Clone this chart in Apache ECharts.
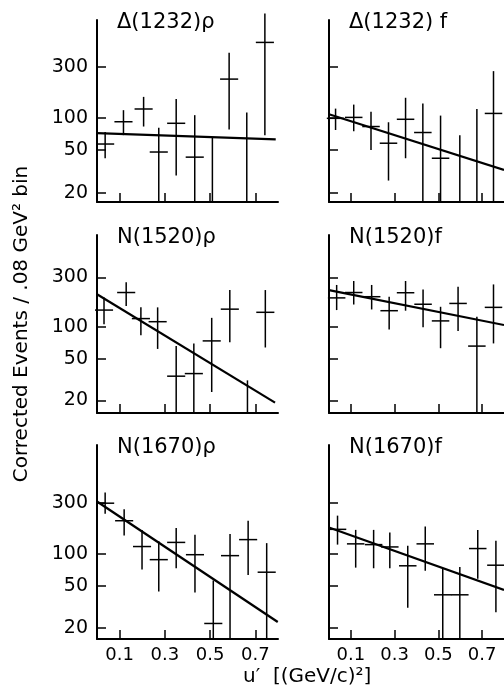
<!DOCTYPE html>
<html><head><meta charset="utf-8">
<script src="https://cdn.jsdelivr.net/npm/echarts@6/dist/echarts.min.js"></script>
<style>html,body{margin:0;padding:0;background:#fff}#c{width:504px;height:691px}</style>
</head><body><div id="c"></div><script>
// Each row: [u', corrected events, lower end of error bar, upper end of error bar]
// central value 0 = below the axis (not visible); lower end 0 = bar runs down to the axis
const delta1232Rho = [
  [0.036, 57, 42, 74], [0.117, 92, 69, 118], [0.206, 121, 83, 157], [0.273, 48, 0, 81],
  [0.35, 89, 29, 150], [0.432, 43, 0, 106], [0.51, 0, 0, 66], [0.584, 230, 78, 405],
  [0.662, 0, 0, 112], [0.742, 506, 69, 944]
];
const delta1232F = [
  [0.03, 99, 77, 122], [0.113, 101, 75, 133], [0.192, 83, 50, 114], [0.272, 58, 26, 91],
  [0.35, 97, 42, 154], [0.429, 73, 0, 136], [0.51, 42, 0, 105], [0.598, 0, 0, 69],
  [0.676, 0, 0, 121], [0.752, 110, 0, 273]
];
const n1520Rho = [
  [0.031, 146, 107, 193], [0.129, 215, 160, 269], [0.194, 121, 84, 155], [0.268, 113, 62, 155],
  [0.35, 34, 0, 66], [0.428, 36, 0, 70], [0.507, 74, 24, 123], [0.587, 149, 72, 227],
  [0.665, 0, 0, 31], [0.744, 139, 64, 227]
];
const n1520F = [
  [0.035, 191, 146, 254], [0.113, 215, 165, 277], [0.195, 196, 148, 254], [0.275, 144, 95, 196],
  [0.35, 214, 144, 277], [0.43, 166, 100, 230], [0.51, 115, 63, 157], [0.59, 169, 92, 244],
  [0.676, 66, 0, 126], [0.752, 155, 70, 257]
];
const n1670Rho = [
  [0.036, 300, 238, 378], [0.12, 205, 149, 263], [0.199, 117, 71, 168], [0.273, 88, 44, 131],
  [0.35, 128, 73, 175], [0.433, 98, 43, 151], [0.514, 22, 0, 56], [0.588, 96, 0, 154],
  [0.668, 136, 63, 205], [0.75, 67, 0, 126]
];
const n1670F = [
  [0.039, 170, 122, 229], [0.122, 124, 74, 168], [0.204, 122, 73, 168], [0.278, 116, 73, 159],
  [0.36, 77, 31, 119], [0.44, 124, 69, 181], [0.52, 41, 0, 73], [0.598, 41, 0, 75],
  [0.68, 112, 58, 168], [0.763, 78, 28, 133]
];
// fitted exponential lines: [u', events] at both ends
const fit1232Rho = [[0, 72], [0.79, 63]];
const fit1232F = [[0, 108], [0.8, 32.7]];
const fit1520Rho = [[0, 207], [0.787, 19]];
const fit1520F = [[0, 227], [0.8, 105]];
const fit1670Rho = [[0, 311], [0.799, 22.7]];
const fit1670F = [[0, 177], [0.8, 45.6]];

const panelTitles = ['\u0394(1232)\u03c1', '\u0394(1232) f', 'N(1520)\u03c1', 'N(1520)f', 'N(1670)\u03c1', 'N(1670)f'];
const panelData = [delta1232Rho, delta1232F, n1520Rho, n1520F, n1670Rho, n1670F];
const panelFits = [fit1232Rho, fit1232F, fit1520Rho, fit1520F, fit1670Rho, fit1670F];
const xTickValues = [0.1, 0.3, 0.5, 0.7];
const yTickValues = [20, 50, 100, 300];
const xRange = [0, 0.8];
const yRangeByRow = [[16.4, 819], [15.1, 764], [15.7, 1062]];
const binHalfWidth = 0.04;

// layout
const rowTop = [20, 235, 445];
const rowHeight = [182, 178, 194];
const colLeft = [97, 329];
const colWidth = [181, 178];
const FONT = 'DejaVu Sans';

const grids = [], xAxes = [], yAxes = [], series = [], titles = [];
for (let i = 0; i < 6; i++) {
  const r = Math.floor(i / 2), c = i % 2;
  grids.push({ left: colLeft[c], top: rowTop[r], width: colWidth[c], height: rowHeight[r], containLabel: false });
  xAxes.push({
    gridIndex: i, type: 'value', min: xRange[0], max: xRange[1],
    axisLine: { show: true, lineStyle: { color: '#000', width: 2 } },
    axisTick: { show: true, inside: true, length: 9, lineStyle: { color: '#000', width: 1.5 }, customValues: xTickValues },
    axisLabel: { show: r === 2, customValues: xTickValues, margin: 7, color: '#000', fontFamily: FONT, fontSize: 18,
      formatter: v => v.toFixed(1) },
    splitLine: { show: false }
  });
  const y = {
    gridIndex: i, type: 'log', min: yRangeByRow[r][0], max: yRangeByRow[r][1],
    axisLine: { show: true, lineStyle: { color: '#000', width: 2 } },
    axisTick: { show: true, inside: true, length: 9, lineStyle: { color: '#000', width: 1.5 }, customValues: yTickValues },
    axisLabel: { show: c === 0, customValues: yTickValues, margin: 9, color: '#000', fontFamily: FONT, fontSize: 19,
      formatter: v => String(Math.round(v)) },
    splitLine: { show: false }, minorTick: { show: false }
  };
  if (i === 2) {
    y.name = 'Corrected Events / .08 GeV\u00b2 bin';
    y.nameLocation = 'middle';
    y.nameGap = 65;
    y.nameTextStyle = { color: '#000', fontFamily: FONT, fontSize: 20 };
  }
  yAxes.push(y);
  titles.push({
    text: panelTitles[i], left: colLeft[c] + 15, top: rowTop[r] - 13,
    textStyle: { color: '#000', fontFamily: FONT, fontSize: 21, fontWeight: 'normal' }
  });
  series.push({
    type: 'custom', xAxisIndex: i, yAxisIndex: i, data: panelData[i], clip: false,
    encode: { x: 0, y: [1, 2, 3] },
    renderItem: function (params, api) {
      const x = api.value(0), v = api.value(1), lo = api.value(2), hi = api.value(3);
      const cs = params.coordSys;
      const bottom = cs.y + cs.height;
      const top = api.coord([x, hi]);
      const yb = lo > 0 ? Math.min(bottom, api.coord([x, lo])[1]) : bottom;
      const st = { stroke: '#000', lineWidth: 1.5, fill: null };
      const children = [{ type: 'line', shape: { x1: top[0], y1: top[1], x2: top[0], y2: yb }, style: st }];
      if (v > 0) {
        const a = api.coord([x - binHalfWidth, v]), b = api.coord([x + binHalfWidth, v]);
        if (a[1] <= bottom) children.push({ type: 'line', shape: { x1: a[0], y1: a[1], x2: b[0], y2: b[1] }, style: st });
      }
      return { type: 'group', children: children };
    }
  });
  series.push({
    type: 'line', xAxisIndex: i, yAxisIndex: i, data: panelFits[i], showSymbol: false, silent: true,
    lineStyle: { color: '#000', width: 2.2 }, clip: false
  });
}

const chart = echarts.init(document.getElementById('c'), null, { renderer: 'canvas' });
chart.setOption({
  animation: false,
  backgroundColor: '#fff',
  title: titles,
  grid: grids, xAxis: xAxes, yAxis: yAxes, series: series,
  graphic: [{
    type: 'text', left: 243, top: 667,
    style: { text: 'u\u2032  [(GeV/c)\u00b2]', fill: '#000', font: '20px "DejaVu Sans"' }
  }]
});
</script></body></html>
